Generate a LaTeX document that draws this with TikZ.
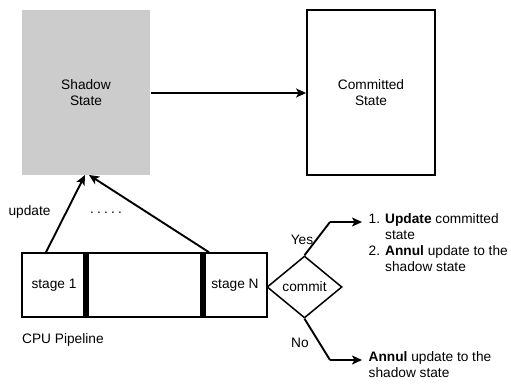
\documentclass[tikz,border=0pt]{standalone}
\usepackage{fontspec}
\setmainfont{Liberation Sans}
\usepackage{tikz}
\usetikzlibrary{positioning,arrows.meta,shapes.geometric}

\begin{document}
\begin{tikzpicture}[x=1pt,y=-1pt,
    every node/.style={font=\fontsize{13.7}{16}\selectfont},
    statebox/.style={draw,line width=1.8pt,minimum width=128pt,minimum height=165pt,align=center,inner sep=0pt},
    stagebox/.style={draw,line width=1.5pt,minimum height=64pt,inner sep=0pt},
    stagebar/.style={fill=black,minimum width=5.5pt,minimum height=64pt,inner sep=0pt},
    flow/.style={line width=1.9pt,-{Stealth[length=10pt,width=9pt,inset=2.5pt]}},
    note/.style={align=left,inner sep=0pt,anchor=north west}]
    \useasboundingbox (0,0) rectangle (511,383);
    % states
    \node[statebox,draw=none,fill=black!20] (shadow) at (86,92.5) {Shadow\\State};
    \node[statebox] (committed) at (371,92.5) {Committed\\State};
    \draw[flow] (shadow.east |- 0,93) -- (committed.west |- 0,93);
    % pipeline
    \node[stagebox,minimum width=64pt] (st1) at (54,285) {stage 1};
    \node[stagebox,minimum width=114pt] (mid) at (144.5,285) {};
    \node[stagebox,minimum width=64pt] (stN) at (235,285) {stage N};
    \node[stagebar] (bar1) at (86,285) {};
    \node[stagebar] (barN) at (203,285) {};
    \node[anchor=west,inner sep=0pt] (cpu) at (22,340) {CPU Pipeline};
    \coordinate (tipA) at (85,175);
    \coordinate (tipB) at (89,175);
    \draw[flow] (st1.north -| 46,0) -- (tipA);
    \draw[flow] (stN.north -| 209,0) -- (tipB);
    \node (upd) at (29.5,212) {update};
    \node (dots) at (106,213) {.\hspace{3.2pt}.\hspace{3.2pt}.\hspace{3.2pt}.\hspace{3.2pt}.};
    % commit decision
    \node[diamond,draw,line width=1.5pt,aspect=1.21,minimum width=75pt,minimum height=62pt,inner sep=1pt] (commit) at (304.5,287) {commit};
    \coordinate (yesbend) at (330,222);
    \coordinate (yesend) at (362,222);
    \coordinate (nobend) at (330,360);
    \coordinate (noend) at (362,360);
    \draw[line width=1.9pt] (commit.north) -- (yesbend);
    \draw[flow] (yesbend) -- (yesend);
    \draw[line width=1.9pt] (commit.south) -- (nobend);
    \draw[flow] (nobend) -- (noend);
    \node (yes) at (302,240) {Yes};
    \node (no) at (300,343) {No};
    \node[note] (yesnote) at (368.5,213) {1. \textbf{Update} committed\\\hphantom{1. }state\\2. \textbf{Annul} update to the\\\hphantom{2. }shadow state};
    \node[note] (nonote) at (368.5,351) {\textbf{Annul} update to the\\shadow state};
  \end{tikzpicture}
\end{document}
